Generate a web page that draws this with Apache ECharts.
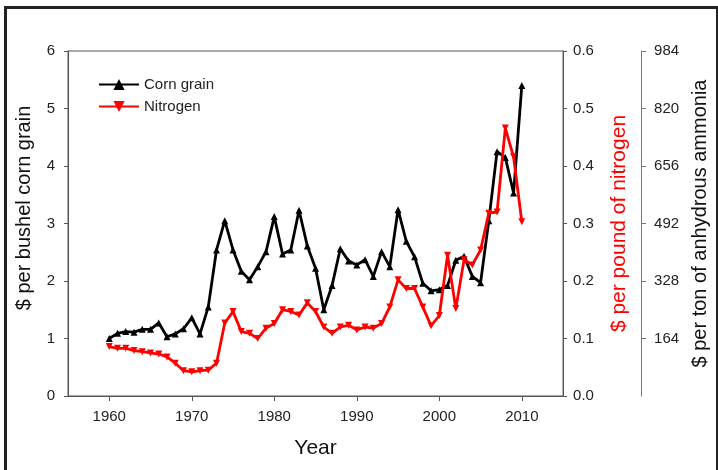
<!DOCTYPE html>
<html>
<head>
<meta charset="utf-8">
<script src="https://cdn.jsdelivr.net/npm/echarts@6/dist/echarts.min.js"></script>
<style>
  html, body { margin: 0; padding: 0; background: #fff; }
  #chart { width: 718px; height: 470px; }
</style>
</head>
<body>
<div id="chart"></div>
<script>
// Annual prices, 1960-2010
const years = [];
for (let y = 1960; y <= 2010; y++) years.push(y);

// $ per bushel of corn grain
const cornPrice = [
  1.00, 1.09, 1.12, 1.11, 1.16, 1.16, 1.27, 1.03, 1.08, 1.17,
  1.36, 1.08, 1.55, 2.54, 3.05, 2.54, 2.17, 2.02, 2.25, 2.51,
  3.12, 2.47, 2.54, 3.23, 2.61, 2.22, 1.50, 1.92, 2.56, 2.35,
  2.28, 2.37, 2.08, 2.51, 2.25, 3.24, 2.69, 2.42, 1.96, 1.83,
  1.85, 1.92, 2.36, 2.43, 2.08, 1.97, 3.05, 4.25, 4.15, 3.53,
  5.40
];

// $ per pound of nitrogen
const nitrogenPrice = [
  0.086, 0.083, 0.083, 0.079, 0.077, 0.075, 0.073, 0.068, 0.057, 0.044,
  0.042, 0.044, 0.045, 0.057, 0.127, 0.147, 0.112, 0.109, 0.100, 0.118,
  0.126, 0.150, 0.147, 0.141, 0.162, 0.147, 0.120, 0.109, 0.120, 0.123,
  0.115, 0.120, 0.118, 0.126, 0.155, 0.202, 0.187, 0.187, 0.155, 0.122,
  0.140, 0.245, 0.152, 0.237, 0.228, 0.254, 0.318, 0.320, 0.466, 0.416,
  0.303
];

const yearTicks = [1960, 1970, 1980, 1990, 2000, 2010];

const FONT = 'Liberation Sans, Arial, sans-serif';
const AXIS_COLOR = '#555';

const chart = echarts.init(document.getElementById('chart'), null, { renderer: 'canvas' });

chart.setOption({
  animation: false,
  backgroundColor: '#fff',
  textStyle: { fontFamily: FONT },
  grid: {
    left: 68, right: 152, top: 51, bottom: 74,
    show: true, borderColor: AXIS_COLOR, borderWidth: 1
  },
  legend: {
    orient: 'vertical',
    left: 93, top: 72,
    itemWidth: 40, itemHeight: 14, itemGap: 7,
    textStyle: { fontSize: 15, color: '#222', fontFamily: FONT },
    data: ['Corn grain', 'Nitrogen']
  },
  graphic: [
    {
      type: 'rect', silent: true, z: -10,
      shape: { x: 5.5, y: 7.5, width: 712, height: 470 },
      style: { fill: 'none', stroke: '#222', lineWidth: 3 }
    },
    {
      type: 'text', x: 24, y: 208, rotation: Math.PI / 2,
      style: {
        text: '$ per bushel corn grain', fill: '#111',
        font: '20px ' + FONT, align: 'center', verticalAlign: 'middle'
      }
    }
  ],
  xAxis: {
    type: 'value', min: 1955, max: 2015,
    name: 'Year', nameLocation: 'middle', nameGap: 42,
    nameTextStyle: { fontSize: 21, color: '#111', fontFamily: FONT },
    axisLine: { show: true, lineStyle: { color: AXIS_COLOR, width: 1 } },
    axisTick: { show: true, length: 5, customValues: yearTicks, lineStyle: { color: AXIS_COLOR } },
    axisLabel: { customValues: yearTicks, margin: 13, fontSize: 15, color: '#222', fontFamily: FONT,
      formatter: v => String(v) },
    splitLine: { show: false }
  },
  yAxis: [
    {
      type: 'value', position: 'left', min: 0, max: 6, interval: 1,
      axisLine: { show: true, lineStyle: { color: AXIS_COLOR } },
      axisTick: { show: true, length: 4, lineStyle: { color: AXIS_COLOR } },
      axisLabel: { margin: 13, fontSize: 15, color: '#222', fontFamily: FONT },
      splitLine: { show: false }
    },
    {
      type: 'value', position: 'right', min: 0, max: 0.6, interval: 0.1,
      name: '$ per pound of nitrogen', nameLocation: 'middle', nameGap: 46, nameRotate: 90,
      nameTextStyle: { fontSize: 21, color: '#ff0000', fontFamily: FONT },
      axisLine: { show: true, lineStyle: { color: AXIS_COLOR } },
      axisTick: { show: true, length: 4, lineStyle: { color: AXIS_COLOR } },
      axisLabel: { margin: 10, fontSize: 15, color: '#222', fontFamily: FONT,
        formatter: v => v.toFixed(1) },
      splitLine: { show: false }
    },
    {
      type: 'value', position: 'right', offset: 78, min: 0, max: 984, interval: 164,
      name: '$ per ton of anhydrous ammonia', nameLocation: 'middle', nameGap: 48, nameRotate: 90,
      nameTextStyle: { fontSize: 20, color: '#111', fontFamily: FONT },
      axisLine: { show: true, lineStyle: { color: '#777' } },
      axisTick: { show: true, length: 5, lineStyle: { color: '#777' } },
      axisLabel: { margin: 13, fontSize: 15, color: '#222', fontFamily: FONT, showMinLabel: false },
      splitLine: { show: false }
    }
  ],
  series: [
    {
      name: 'Corn grain', type: 'line', xAxisIndex: 0, yAxisIndex: 0,
      data: years.map((y, i) => [y, cornPrice[i]]),
      symbol: 'triangle', symbolSize: 7,
      lineStyle: { color: '#000', width: 2.8 },
      itemStyle: { color: '#000' },
      z: 3
    },
    {
      name: 'Nitrogen', type: 'line', xAxisIndex: 0, yAxisIndex: 1,
      data: years.map((y, i) => [y, nitrogenPrice[i]]),
      symbol: 'triangle', symbolRotate: 180, symbolSize: 7,
      lineStyle: { color: '#ff0000', width: 2.8 },
      itemStyle: { color: '#ff0000' },
      z: 4
    }
  ]
});
</script>
</body>
</html>
